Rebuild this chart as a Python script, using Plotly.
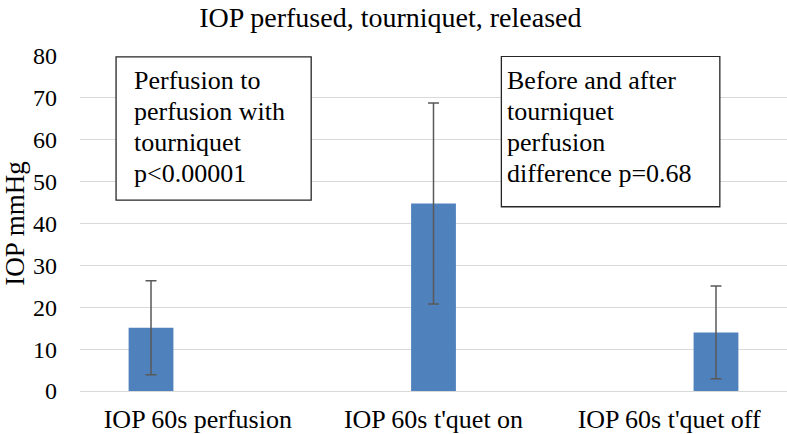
import plotly.graph_objects as go

# chart data
categories = ["IOP 60s perfusion", "IOP 60s t'quet on", "IOP 60s t'quet off"]
series_names = ["perfusion", "tourniquet on", "tourniquet off"]
means = [15.1, 44.8, 14.0]
sds = [11.2, 24.0, 11.1]
y_ticks = [0, 10, 20, 30, 40, 50, 60, 70, 80]

note_left = ["Perfusion to", "perfusion with", "tourniquet", "p<0.00001"]
note_right = ["Before and after", "tourniquet", "perfusion", "difference p=0.68"]

serif = "Liberation Serif"
bar_color = "#4f81bd"
grid_color = "#d9d9d9"

plot_top, plot_bottom = 56, 393  # pixel rows of the plot area


def paper_y(px):
    return (plot_bottom - px) / (plot_bottom - plot_top)


fig = go.Figure()

# one series per condition, like the Excel sheet, so each bar sits in its own slot
for i, name in enumerate(series_names):
    y = [None] * len(categories)
    err = [None] * len(categories)
    y[i] = means[i]
    err[i] = sds[i]
    fig.add_trace(go.Bar(
        x=categories,
        y=y,
        name=name,
        marker=dict(color=bar_color, line=dict(width=0)),
        error_y=dict(type='data', array=err, visible=True,
                     color='#595959', thickness=1.5, width=5.5),
        showlegend=False,
        hoverinfo='skip'
    ))

# text boxes
fig.add_shape(type='rect', xref='paper', yref='y', x0=0.051, x1=0.327, y0=45.6, y1=79.8,
              line=dict(color='#262626', width=1.3), fillcolor='white', layer='above')
fig.add_shape(type='rect', xref='paper', yref='y', x0=0.596, x1=0.905, y0=44.0, y1=79.9,
              line=dict(color='#262626', width=1.3), fillcolor='white', layer='above')

# one annotation per line so the line spacing matches the original
for x0, lines in [(0.073, note_left), (0.601, note_right)]:
    for j, line in enumerate(lines):
        fig.add_annotation(text=line, xref='paper', yref='paper', x=x0,
                           y=paper_y(90 + 31 * j - 9),
                           xanchor='left', yanchor='middle', align='left', showarrow=False,
                           font=dict(family=serif, size=26, color='black'))

fig.update_layout(
    width=787,
    height=434,
    margin=dict(l=80, r=0, t=plot_top, b=434 - plot_bottom),
    paper_bgcolor='white',
    plot_bgcolor='white',
    barmode='group',
    bargap=0.404,
    bargroupgap=0.043,
    title=dict(text="IOP perfused, tourniquet, released", x=0.496, xanchor='center',
               y=0.982, yanchor='top', yref='container',
               font=dict(family=serif, size=28, color='black')),
    font=dict(family=serif, color='black'),
    xaxis=dict(showgrid=False, showline=False, ticks='', ticklabelstandoff=10,
               tickfont=dict(family=serif, size=26, color='black')),
    yaxis=dict(range=[0, 80], tickvals=y_ticks, showgrid=True, gridcolor=grid_color, gridwidth=1,
               zeroline=True, zerolinecolor=grid_color, zerolinewidth=1, showline=False,
               ticks='', ticklabelstandoff=22, automargin=False,
               tickfont=dict(family=serif, size=24, color='black'),
               title=dict(text="IOP mmHg", font=dict(family=serif, size=27, color='black'),
                          standoff=0)),
)

# drop the default 8px page margin so the figure sits at the window's top-left
fig.write_html("out.html", config={'displayModeBar': False},
               post_script="document.body.style.margin='0';")
